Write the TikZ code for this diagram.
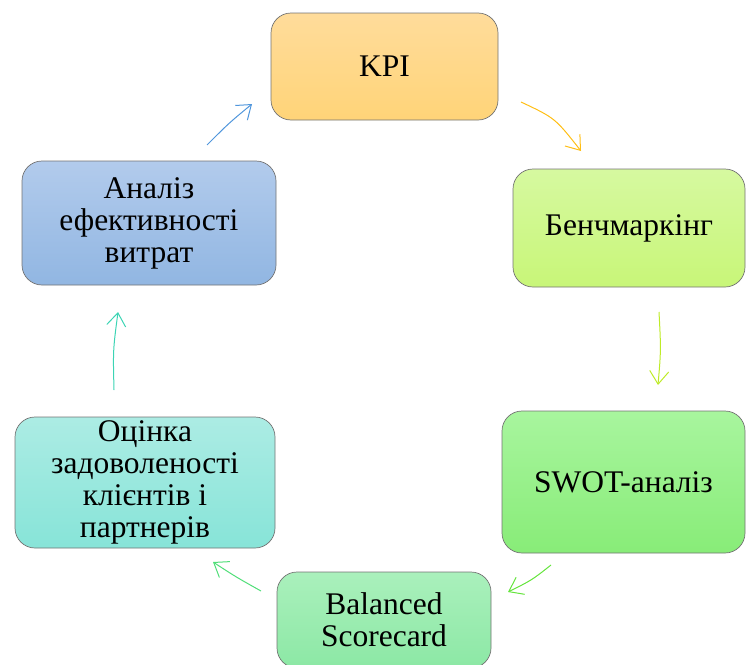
\documentclass[tikz,border=0pt]{standalone}
\usepackage{fontspec}
\setmainfont{Liberation Serif}
\usetikzlibrary{arrows.meta}
\begin{document}
\begin{tikzpicture}[x=1pt,y=-1pt,
  box/.style={draw=black!55, line width=0.7pt, rounded corners=20pt, align=center,
    font=\fontsize{31.5}{32}\selectfont, inner sep=0pt},
  conn/.style={line width=1pt, -{Straight Barb[length=13pt,width=19pt,line width=1pt]}}]
\definecolor{kpiT}{RGB}{255,220,155}\definecolor{kpiB}{RGB}{255,212,120}
\definecolor{benT}{RGB}{214,249,160}\definecolor{benB}{RGB}{200,246,120}
\definecolor{swoT}{RGB}{168,245,158}\definecolor{swoB}{RGB}{136,236,120}
\definecolor{balT}{RGB}{170,240,188}\definecolor{balB}{RGB}{140,232,165}
\definecolor{ocT}{RGB}{172,236,228}\definecolor{ocB}{RGB}{135,228,216}
\definecolor{anT}{RGB}{178,203,236}\definecolor{anB}{RGB}{145,182,226}
\definecolor{arO}{RGB}{255,190,20}\definecolor{arL}{RGB}{190,235,40}
\definecolor{arG}{RGB}{100,228,60}\definecolor{arG2}{RGB}{80,222,120}
\definecolor{arT}{RGB}{60,212,180}\definecolor{arB}{RGB}{80,150,220}
\useasboundingbox (0,0) rectangle (746,664);
\node[box, minimum width=227pt, minimum height=107pt, top color=kpiT, bottom color=kpiB] (kpi) at (384.5,66.5) {KPI};
\node[box, minimum width=232pt, minimum height=118pt, top color=benT, bottom color=benB] (ben) at (629,228) {Бенчмаркінг};
\node[box, minimum width=243pt, minimum height=142pt, top color=swoT, bottom color=swoB] (swot) at (623.5,482) {SWOT-аналіз};
\node[box, minimum width=214pt, minimum height=96pt, top color=balT, bottom color=balB] (bal) at (384,620) {Balanced\\Scorecard};
\node[box, minimum width=260pt, minimum height=131pt, top color=ocT, bottom color=ocB] (oc) at (145,482.5) {Оцінка\\задоволеності\\клієнтів і\\партнерів};
\node[box, minimum width=254pt, minimum height=124pt, top color=anT, bottom color=anB] (an) at (149,223) {Аналіз\\ефективності\\витрат};
\coordinate (a1) at (521,102); \coordinate (a2) at (581,151);
\coordinate (b1) at (659,312); \coordinate (b2) at (658,385);
\coordinate (c1) at (551,565); \coordinate (c2) at (508,592);
\coordinate (d1) at (261,591); \coordinate (d2) at (213,562);
\coordinate (e1) at (114,390); \coordinate (e2) at (118,312);
\coordinate (f1) at (207,145); \coordinate (f2) at (252,104);
\draw[conn, arO] (a1) .. controls (555,118) .. (a2);
\draw[conn, arL] (b1) .. controls (661,350) .. (b2);
\draw[conn, arG] (c1) .. controls (532,580) .. (c2);
\draw[conn, arG2] (d1) .. controls (236,577) .. (d2);
\draw[conn, arT] (e1) .. controls (113,350) .. (e2);
\draw[conn, arB] (f1) .. controls (229,123) .. (f2);
\end{tikzpicture}
\end{document}
